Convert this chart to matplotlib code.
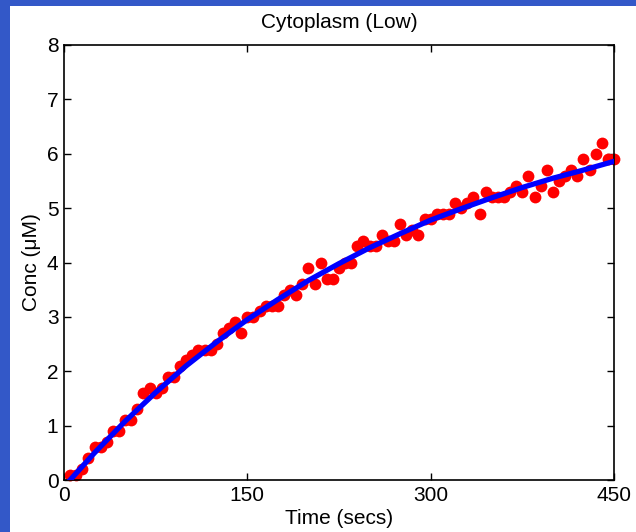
import matplotlib
matplotlib.use("Agg")
import matplotlib.pyplot as plt
from matplotlib.patches import Rectangle

# measured concentrations, every 5 s
times = list(range(5, 455, 5))
conc = [0.1, 0.1, 0.2, 0.4, 0.6, 0.6, 0.7, 0.9, 0.9, 1.1,
        1.1, 1.3, 1.6, 1.7, 1.6, 1.7, 1.9, 1.9, 2.1, 2.2,
        2.3, 2.4, 2.4, 2.4, 2.5, 2.7, 2.8, 2.9, 2.7, 3.0,
        3.0, 3.1, 3.2, 3.2, 3.2, 3.4, 3.5, 3.4, 3.6, 3.9,
        3.6, 4.0, 3.7, 3.7, 3.9, 4.0, 4.0, 4.3, 4.4, 4.3,
        4.3, 4.5, 4.4, 4.4, 4.7, 4.5, 4.6, 4.5, 4.8, 4.8,
        4.9, 4.9, 4.9, 5.1, 5.0, 5.1, 5.2, 4.9, 5.3, 5.2,
        5.2, 5.2, 5.3, 5.4, 5.3, 5.6, 5.2, 5.4, 5.7, 5.3,
        5.5, 5.6, 5.7, 5.6, 5.9, 5.7, 6.0, 6.2, 5.9, 5.9]

# fitted curve
fit_t = [5, 25, 50, 75, 100, 125, 150, 175, 200, 225,
         250, 275, 300, 325, 350, 375, 400, 425, 450]
fit_c = [0.0, 0.50, 1.08, 1.61, 2.10, 2.54, 2.95, 3.32, 3.67, 3.98,
         4.27, 4.53, 4.78, 4.99, 5.19, 5.38, 5.55, 5.70, 5.86]

xticks = [0, 150, 300, 450]
yticks = [0, 1, 2, 3, 4, 5, 6, 7, 8]

plt.rcParams['font.family'] = ['Liberation Sans', 'DejaVu Sans']

fig = plt.figure(figsize=(6.36, 5.32), dpi=100, facecolor='white')
fig.patches.append(Rectangle((0, 0), 10 / 636, 1, transform=fig.transFigure,
                             facecolor='#3358c8', edgecolor='none', zorder=0))
fig.patches.append(Rectangle((0, 1 - 6 / 532), 1, 6 / 532, transform=fig.transFigure,
                             facecolor='#3358c8', edgecolor='none', zorder=0))

ax = fig.add_axes([64 / 636, 52 / 532, 550 / 636, 435 / 532])
ax.plot(times, conc, 'o', color='red', markersize=8.5, markeredgewidth=0,
        clip_on=False, zorder=2)
ax.plot(fit_t, fit_c, '-', color='blue', linewidth=3.8, zorder=3)

ax.set_xlim(0, 450)
ax.set_ylim(0, 8)
ax.set_xticks(xticks)
ax.set_yticks(yticks)
ax.tick_params(direction='in', length=5, width=1, top=True, right=True,
               labelsize=15, pad=4)
for s in ax.spines.values():
    s.set_linewidth(1.2)

ax.set_title('Cytoplasm (Low)', fontsize=15, pad=12)
ax.set_xlabel('Time (secs)', fontsize=15, labelpad=3)
ax.set_ylabel('Conc (\u03bcM)', fontsize=15, labelpad=4)

fig.savefig('out.png', dpi=100, facecolor=fig.get_facecolor())
